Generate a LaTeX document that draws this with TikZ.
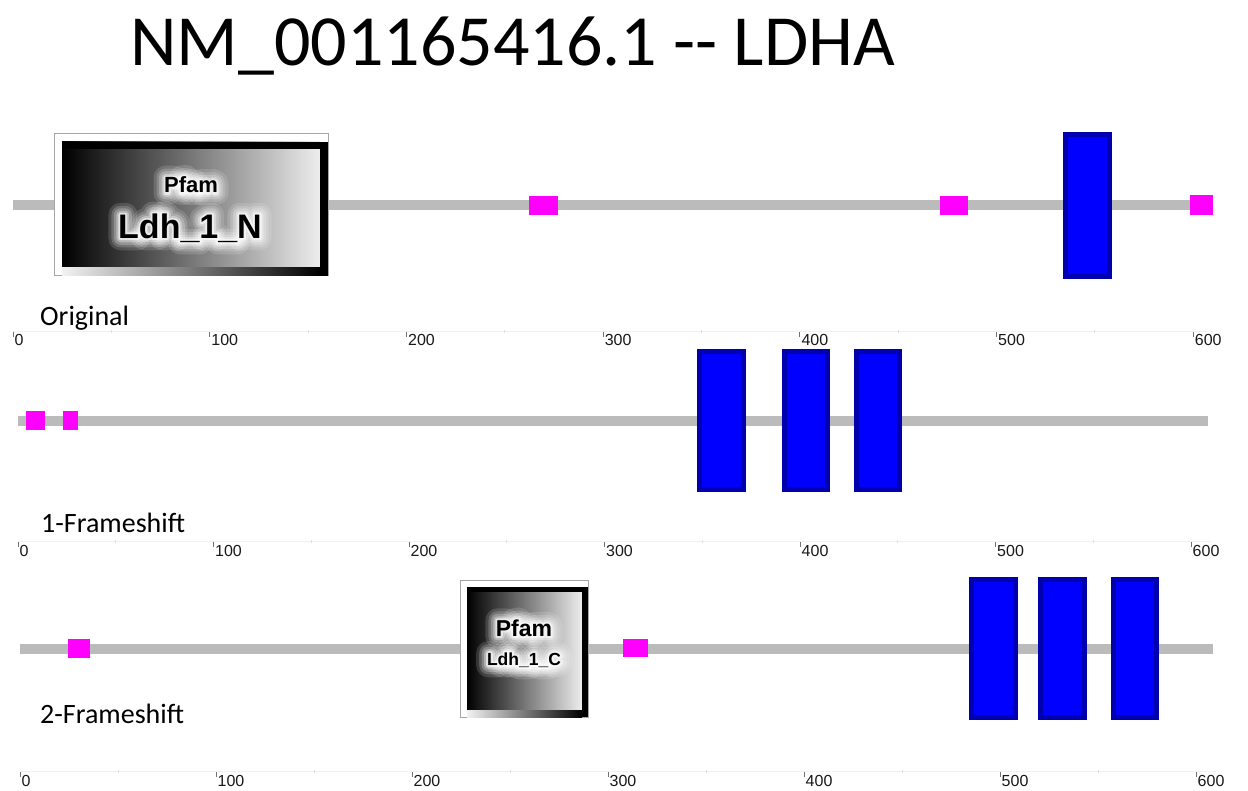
\documentclass[tikz,border=0pt]{standalone}
\usepackage{fontspec}
\setmainfont{Carlito}
\newfontfamily\arialfont{Liberation Sans}
\definecolor{trackgray}{RGB}{187,187,187}
\definecolor{motifpink}{RGB}{255,0,255}
\definecolor{helixblue}{RGB}{0,0,255}
\definecolor{helixrim}{RGB}{0,0,175}
\definecolor{ticklabelcol}{RGB}{25,25,25}

% sequence ruler: #1 name prefix, #2 x of 0, #3 px per 100, #4 y of tick tops
\newcommand\seqruler[4]{%
  \draw[rulerbase] (#2,#4-1) -- (#2+6*#3+20,#4-1);
  \foreach \k in {0,...,5}{\draw[minortick] (#2+\k*#3+0.5*#3,#4-2) -- ++(0,3);}
  \foreach \k in {0,...,6}{%
    \draw[majortick] (#2+\k*#3,#4) -- ++(0,5);
    \node[ticklabel] (#1-\k) at (#2+\k*#3+1.5,#4+14) {\the\numexpr\k*100\relax};}%
}
% helix block: dark rim with bright fill
\newcommand\helixblock[4]{%
  \fill[helixrim] (#1,#2) rectangle (#3,#4);
  \fill[helixblue] (#1+5,#2+5) rectangle (#3-5,#4-5);
}
% outlined-only glyphs in white: #1 outline width (bp), #2 stroke opacity, #3 text
\newcommand\outlinedtext[3]{%
  \pgfsetstrokeopacity{#2}%
  \special{pdf:literal direct 1 Tr #1 w 1 J 1 j 1 1 1 RG}#3%
  \special{pdf:literal direct 0 Tr}}
% domain label with a soft white glow: #1 name, #2 position, #3 font, #4 text
\newcommand\glowlabel[4]{%
  \foreach \w/\o [count=\i] in {24/0.14,18/0.18,13/0.24,8/0.34,4/0.6}{%
    \node[domtext, font=#3] (#1-glow\i) at (#2) {\outlinedtext{\w}{\o}{#4}};}%
  \node[domtext, font=#3] (#1) at (#2) {#4};}

\begin{document}
\begin{tikzpicture}[x=1pt,y=-1pt,
  track/.style={draw=trackgray, line width=10pt},
  motif/.style={fill=motifpink},
  rulerbase/.style={draw=black!6, line width=0.8pt},
  minortick/.style={draw=black!12, line width=0.8pt},
  majortick/.style={draw=black!55, line width=0.7pt},
  ticklabel/.style={anchor=base west, inner sep=0pt, text=ticklabelcol,
    font=\arialfont\fontsize{16}{18}\selectfont},
  rowlabel/.style={anchor=base west, inner sep=0pt,
    font=\fontsize{28}{32}\selectfont},
  domtext/.style={inner sep=0pt, text=black}]

\useasboundingbox[fill=white] (0,0) rectangle (1248,791);

% heading
\node[anchor=base west, inner sep=0pt, font=\fontsize{72}{80}\selectfont]
  (title) at (130,66) {NM\_001165416.1 -{}- LDHA};

% ---------------- Original ----------------
\draw[track] (13,205) -- (1213,205);
% Pfam domain Ldh_1_N
\filldraw[fill=white, draw=black!35, line width=1pt] (54,134) rectangle (328,276);
\shade[left color=black, right color=black!7] (62,142) rectangle (320,268);
\shade[left color=black!5, right color=black] (62,268) rectangle (320,276);
\fill[black] (62,142) rectangle (328,149);
\fill[black] (320,142) rectangle (328,276);
\glowlabel{dom1-src}{191,185}{\arialfont\bfseries\fontsize{22}{24}\selectfont}{Pfam}
\glowlabel{dom1-name}{190,228}{\arialfont\bfseries\fontsize{34}{38}\selectfont}{Ldh\_1\_N}
% motifs
\fill[motif] (529,196) rectangle (558,215);
\fill[motif] (940,196) rectangle (968,215);
\fill[motif] (1190,195) rectangle (1213,215);
% helix
\helixblock{1063}{132}{1112}{279}
\node[rowlabel] (lab-orig) at (40,326) {Original};
\seqruler{r1}{13}{196.7}{332}

% ---------------- 1-Frameshift ----------------
\draw[track] (18,421) -- (1208,421);
\fill[motif] (26,411) rectangle (45,430);
\fill[motif] (63,411) rectangle (78,430);
\helixblock{697}{349}{746}{492}
\helixblock{782}{349}{830}{492}
\helixblock{854}{349}{902}{492}
\node[rowlabel] (lab-fs1) at (41,532) {1-Frameshift};
\seqruler{r2}{18}{195.5}{542}

% ---------------- 2-Frameshift ----------------
\draw[track] (20,649) -- (1213,649);
\fill[motif] (68,639) rectangle (90,658);
\fill[motif] (623,639) rectangle (648,657);
% Pfam domain Ldh_1_C
\filldraw[fill=white, draw=black!35, line width=1pt] (460,580) rectangle (588,717);
\shade[left color=black, right color=black!7] (467,587) rectangle (582,710);
\shade[left color=black!5, right color=black] (467,710) rectangle (582,717);
\fill[black] (467,587) rectangle (588,592);
\fill[black] (582,587) rectangle (588,717);
\glowlabel{dom2-src}{524,628}{\arialfont\bfseries\fontsize{23}{25}\selectfont}{Pfam}
\glowlabel{dom2-name}{524,660}{\arialfont\bfseries\fontsize{17.5}{20}\selectfont}{Ldh\_1\_C}
\helixblock{969}{577}{1018}{720}
\helixblock{1038}{577}{1087}{720}
\helixblock{1111}{577}{1159}{720}
\node[rowlabel] (lab-fs2) at (40,723) {2-Frameshift};
\seqruler{r3}{20}{196}{772}

\end{tikzpicture}
\end{document}
